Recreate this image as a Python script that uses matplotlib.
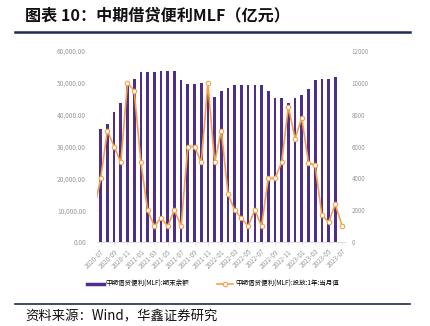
import numpy as np
import matplotlib
matplotlib.use("Agg")
import matplotlib.pyplot as plt
from matplotlib.lines import Line2D
from matplotlib.ticker import FuncFormatter

plt.rcParams['font.family'] = ['Noto Sans CJK SC', 'DejaVu Sans']

months = [
    "2020-06", "2020-07", "2020-08", "2020-09", "2020-10", "2020-11", "2020-12",
    "2021-01", "2021-02", "2021-03", "2021-04", "2021-05", "2021-06",
    "2021-07", "2021-08", "2021-09", "2021-10", "2021-11", "2021-12",
    "2022-01", "2022-02", "2022-03", "2022-04", "2022-05", "2022-06",
    "2022-07", "2022-08", "2022-09", "2022-10", "2022-11", "2022-12",
    "2023-01", "2023-02", "2023-03", "2023-04", "2023-05", "2023-06", "2023-07",
]

# MLF outstanding balance at month end (100m CNY); no figure for the first/last month
balance = [
    np.nan, 35400, 37000, 40900, 43800, 49200, 51300,
    53400, 53400, 53400, 53700, 53700, 53700,
    50800, 49700, 49700, 50000, 50000, 45500,
    47400, 48500, 49400, 49400, 49400, 49400,
    49400, 47400, 45300, 45300, 43800, 45300,
    46200, 48100, 50800, 51100, 51300, 51800, np.nan,
]

# 1-year MLF injection for the month (100m CNY)
injection = [
    2000, 4000, 7000, 6000, 5000, 10000, 9500,
    5000, 2000, 1000, 1500, 1000, 2000,
    1000, 6000, 6000, 5000, 10000, 5000,
    7000, 3000, 2000, 1500, 1000, 2000,
    1000, 4000, 4000, 5000, 8500, 6500,
    7790, 4990, 4810, 1700, 1250, 2370, 1030,
]

left_ticks = [0, 10000, 20000, 30000, 40000, 50000, 60000]
right_ticks = [0, 2000, 4000, 6000, 8000, 10000, 12000]

bar_color = "#4E2E8C"
line_color = "#F7A04A"
tick_color = "#9A9A9A"
navy = "#1E2B55"

W, H = 430, 326
fig = plt.figure(figsize=(W / 100, H / 100), dpi=100)

def fx(px):
    return px / W

def fy(py):
    return 1 - py / H

ax = fig.add_axes([fx(97), fy(242), fx(346) - fx(97), fy(51) - fy(242)])
x = np.arange(len(months))

ax.bar(x, balance, width=0.4, color=bar_color, zorder=2)
ax.set_ylim(0, 60000)
ax.set_yticks(left_ticks)
ax.yaxis.set_major_formatter(FuncFormatter(lambda v, p: f"{v:,.2f}"))
ax.set_xlim(0.45, 37.6)
ax.set_xticks(x[1::2])
ax.set_xticklabels(months[1::2], rotation=45, ha="right", rotation_mode="anchor")

for s in ["top", "left", "right"]:
    ax.spines[s].set_visible(False)
ax.spines["bottom"].set_color("#D9D9D9")
ax.spines["bottom"].set_linewidth(0.6)
ax.tick_params(axis="y", length=0, pad=8, labelsize=4.7, labelcolor=tick_color)
ax.tick_params(axis="x", length=2, color="#D9D9D9", width=0.5, pad=2,
               labelsize=4.6, labelcolor=tick_color)

ax2 = ax.twinx()
ax2.plot(x, injection, color=line_color, lw=1.2, marker="o", ms=3.2,
         mfc="white", mec=line_color, mew=0.8, zorder=3)
ax2.set_ylim(0, 12000)
ax2.set_yticks(right_ticks)
for s in ["top", "left", "right", "bottom"]:
    ax2.spines[s].set_visible(False)
ax2.tick_params(axis="y", length=0, pad=4, labelsize=4.5, labelcolor=tick_color)
ax2.set_xlim(0.45, 37.6)

handles = [
    Line2D([], [], color=bar_color, lw=2.5),
    Line2D([], [], color=line_color, lw=1.2, marker="o", ms=3.2,
           mfc="white", mec=line_color, mew=0.8),
]
fig.legend(handles, ["中期借贷便利(MLF):期末余额", "中期借贷便利(MLF):投放:1年:当月值"],
           loc="center", bbox_to_anchor=(fx(213), fy(284)), ncol=2, frameon=False,
           fontsize=4.7, handlelength=2.5, columnspacing=4.2, handletextpad=0.3)

fig.text(fx(25), fy(15), "图表 10：中期借贷便利MLF（亿元）", fontsize=11.6,
         fontweight="bold", va="center", ha="left", color="#111111")
fig.add_artist(Line2D([fx(15), fx(410)], [fy(32), fy(32)], color=navy, lw=1.8))
fig.add_artist(Line2D([fx(15), fx(410)], [fy(304), fy(304)], color=navy, lw=1.2))
fig.text(fx(25), fy(316), "资料来源：Wind，华鑫证券研究", fontsize=9.6,
         va="center", ha="left", color="#111111")

fig.savefig("out.png", dpi=100)
